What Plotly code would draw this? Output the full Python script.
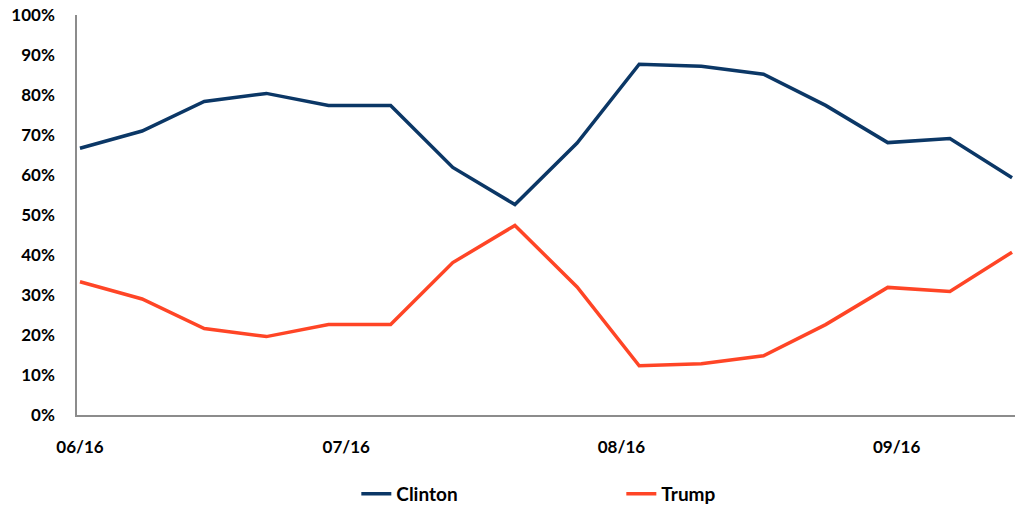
import plotly.graph_objects as go

# Weekly poll readings, June – September 2016
weeks = ["2016-06-01", "2016-06-08", "2016-06-15", "2016-06-22", "2016-06-29",
         "2016-07-06", "2016-07-13", "2016-07-20", "2016-07-27", "2016-08-03",
         "2016-08-10", "2016-08-17", "2016-08-24", "2016-08-31", "2016-09-07",
         "2016-09-14"]
clinton = [66.7, 71.0, 78.4, 80.4, 77.4, 77.4, 61.9, 52.6, 68.0, 87.7,
           87.2, 85.2, 77.4, 68.1, 69.1, 59.3]
trump = [33.3, 29.0, 21.6, 19.6, 22.6, 22.6, 38.1, 47.4, 32.0, 12.3,
         12.8, 14.8, 22.6, 31.9, 30.9, 40.7]

fig = go.Figure()
fig.add_trace(go.Scatter(x=weeks, y=clinton, mode="lines", name="Clinton",
                         line=dict(color="#0B3766", width=3.5)))
fig.add_trace(go.Scatter(x=weeks, y=trump, mode="lines", name="Trump",
                         line=dict(color="#FF4526", width=3.5)))

tick_font = dict(family="Lato, 'Open Sans', sans-serif", size=17, color="#000000", weight="bold")
legend_font = dict(family="Lato, 'Open Sans', sans-serif", size=19, color="#000000", weight="bold")

fig.update_layout(
    width=1021, height=505,
    margin=dict(l=77, r=6, t=15, b=90, autoexpand=False),
    paper_bgcolor="white", plot_bgcolor="white",
    font=tick_font,
    showlegend=True,
    legend=dict(orientation="h", xref="container", yref="container",
                x=0.349, xanchor="left", y=0.022, yanchor="middle",
                entrywidth=220, entrywidthmode="pixels",
                font=legend_font),
    xaxis=dict(type="date", range=["2016-05-31 16:00", "2016-09-14 08:00"],
               tick0="2016-06-01", dtick="M1", tickformat="%m/%y",
               showgrid=False, zeroline=False, showline=True, linecolor="#8C8C8C",
               linewidth=1.5, ticks="", ticklabelstandoff=16,
               tickfont=tick_font),
    yaxis=dict(range=[0, 100], dtick=10, ticksuffix="%",
               showgrid=False, zeroline=False, showline=True, linecolor="#8C8C8C",
               linewidth=1.5, ticks="", ticklabelstandoff=17,
               tickfont=tick_font),
)

fig.write_html("out.html")
